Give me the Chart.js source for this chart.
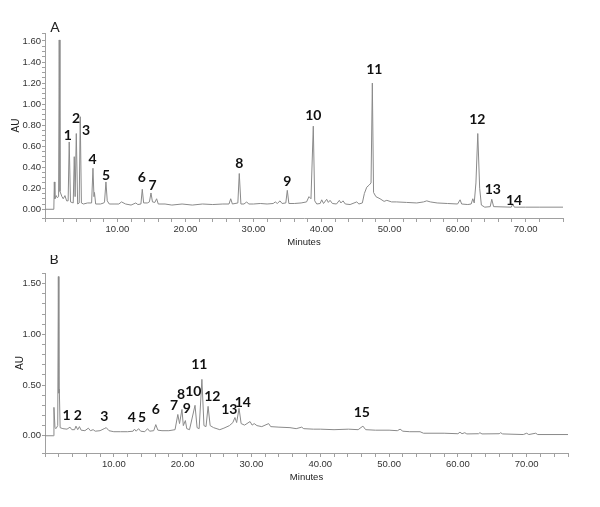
<!DOCTYPE html>
<html>
<head>
<meta charset="utf-8">
<script src="https://cdn.jsdelivr.net/npm/chart.js@4.4.1/dist/chart.umd.min.js"></script>
<style>
    html, body { margin: 0; padding: 0; background: #fff; }
    #wrap { position: relative; width: 600px; height: 507px; }
    .panel { position: absolute; left: 0; width: 600px; }
    #panelA { top: 0; height: 255px; }
    #panelB { top: 255px; height: 252px; }
</style>
</head>
<body>
<div id="wrap">
    <div class="panel" id="panelA"><canvas id="chartA" width="600" height="255"></canvas></div>
    <div class="panel" id="panelB"><canvas id="chartB" width="600" height="252"></canvas></div>
</div>
<script>
// ========================================
// DATA
// ========================================

// Panel A trace: [minutes, AU]
const traceA = [
    [-0.65,0.00],[0.65,0.00],[0.72,0.26],[0.80,0.10],[1.00,0.13],[1.15,0.11],[1.35,0.12],[1.44,1.61],[1.55,0.17],
    [1.84,0.12],[2.03,0.10],[2.28,0.13],[2.53,0.08],[2.75,0.08],[2.91,0.64],[3.10,0.07],[3.50,0.06],[3.65,0.50],
    [3.78,0.12],[3.95,0.72],[4.15,0.05],[4.38,0.06],[4.53,0.88],[4.70,0.06],[5.00,0.05],[5.60,0.06],[6.20,0.06],
    [6.40,0.39],[6.55,0.12],[6.62,0.16],[6.80,0.05],[7.50,0.05],[8.00,0.06],[8.10,0.07],[8.31,0.26],[8.50,0.08],
    [8.80,0.05],[9.50,0.05],[10.20,0.05],[10.60,0.07],[11.20,0.05],[12.00,0.04],[12.70,0.06],[13.00,0.045],
    [13.45,0.05],[13.65,0.19],[13.85,0.06],[14.40,0.06],[14.70,0.07],[14.93,0.155],[15.15,0.07],[15.50,0.065],
    [15.76,0.10],[16.00,0.05],[17.00,0.05],[18.00,0.04],[19.50,0.05],[21.00,0.04],[22.50,0.05],[24.00,0.045],
    [25.50,0.05],[26.40,0.05],[26.65,0.10],[26.90,0.05],[27.70,0.06],[27.91,0.34],[28.15,0.05],[28.60,0.05],
    [29.00,0.07],[29.30,0.05],[30.00,0.05],[31.00,0.055],[32.00,0.05],[32.90,0.055],[33.20,0.07],[33.50,0.055],
    [33.90,0.08],[34.20,0.055],[34.75,0.06],[34.97,0.18],[35.20,0.055],[36.00,0.055],[37.00,0.06],[37.80,0.07],
    [38.16,0.12],[38.45,0.10],[38.79,0.79],[39.00,0.08],[39.30,0.05],[39.80,0.055],[40.03,0.09],[40.30,0.055],
    [40.76,0.095],[41.00,0.065],[41.25,0.085],[41.60,0.055],[42.20,0.05],[42.62,0.085],[42.85,0.06],[43.16,0.08],
    [43.50,0.05],[44.20,0.045],[45.18,0.07],[45.50,0.05],[46.00,0.06],[46.30,0.15],[46.65,0.21],[47.00,0.23],
    [47.28,0.25],[47.47,1.20],[47.65,0.16],[48.00,0.12],[48.60,0.10],[49.20,0.075],[49.60,0.085],[50.30,0.07],
    [51.00,0.07],[52.50,0.065],[54.00,0.06],[55.00,0.07],[55.47,0.08],[56.00,0.07],[57.00,0.06],[58.50,0.055],
    [60.00,0.05],[60.37,0.09],[60.60,0.05],[61.50,0.045],[62.00,0.05],[62.24,0.10],[62.45,0.06],[62.70,0.25],
    [62.97,0.72],[63.25,0.20],[63.50,0.04],[64.00,0.02],[64.80,0.025],[65.03,0.095],[65.30,0.025],[67.90,0.02],
    [68.12,0.05],[68.35,0.02],[70.00,0.02],[72.00,0.02],[75.50,0.02]
];

// Panel B trace: [minutes, AU]
const traceB = [
    [0,0],[1.2,0],[1.3,0.28],[1.45,0.08],[1.6,0.07],[1.85,0.10],[1.94,1.57],[2.02,0.42],[2.08,0.46],[2.2,0.08],
    [2.6,0.07],[3.2,0.065],[3.63,0.085],[3.9,0.06],[4.3,0.06],[4.5,0.095],[4.75,0.06],[5.0,0.09],[5.25,0.055],
    [5.8,0.05],[6.3,0.075],[6.6,0.05],[7.0,0.06],[7.3,0.045],[8.0,0.05],[8.6,0.07],[8.9,0.08],[9.3,0.05],
    [10,0.04],[11,0.04],[12,0.04],[12.8,0.045],[13.0,0.065],[13.25,0.045],[13.6,0.07],[13.9,0.045],[14.5,0.04],
    [14.9,0.07],[15.2,0.045],[15.8,0.05],[16.1,0.11],[16.4,0.055],[17,0.05],[18,0.05],[18.9,0.06],[19.3,0.21],
    [19.55,0.12],[19.9,0.26],[20.1,0.10],[20.4,0.15],[20.6,0.07],[21.0,0.06],[21.8,0.30],[22.1,0.08],[22.4,0.07],
    [22.8,0.556],[23.1,0.10],[23.4,0.09],[23.7,0.29],[24.0,0.10],[24.5,0.08],[25.4,0.06],[26.0,0.075],[26.8,0.10],
    [27.3,0.13],[27.6,0.18],[27.85,0.13],[28.2,0.27],[28.5,0.12],[29.0,0.105],[29.8,0.14],[30.1,0.105],[30.4,0.12],
    [30.8,0.10],[31.5,0.09],[32.5,0.12],[32.8,0.09],[34.0,0.085],[35.6,0.08],[36.5,0.07],[37.3,0.085],[37.6,0.07],
    [39.0,0.065],[40.0,0.065],[42.0,0.06],[44.1,0.065],[45.5,0.06],[46.2,0.095],[46.6,0.06],[48.0,0.055],
    [50.0,0.055],[51.2,0.05],[51.6,0.065],[52.0,0.045],[53.0,0.04],[54.5,0.04],[55.0,0.025],[58.0,0.025],
    [60.0,0.02],[60.3,0.035],[60.6,0.02],[61.0,0.03],[61.3,0.018],[63.0,0.02],[63.2,0.03],[63.5,0.018],
    [66.0,0.02],[66.2,0.03],[66.5,0.018],[69.5,0.012],[70.0,0.025],[70.3,0.012],[71.3,0.025],[71.6,0.012],[76.0,0.012]
];

// Peak numbers and where each number sits (minutes, AU)
const peakNumsA   = ['1','2','3','4','5','6','7','8','9','10','11','12','13','14'];
const peakTimesA  = [2.72, 3.90, 5.37, 6.35, 8.31, 13.6, 15.18, 27.91, 34.97, 38.79, 47.76, 62.9, 65.18, 68.3];
const peakLevelsA = [0.705, 0.867, 0.752, 0.476, 0.324, 0.305, 0.229, 0.435, 0.26, 0.889, 1.333, 0.857, 0.188, 0.086];

const peakNumsB   = ['1','2','3','4','5','6','7','8','9','10','11','12','13','14','15'];
const peakTimesB  = [3.15, 4.75, 8.62, 12.6, 14.1, 16.09, 18.75, 19.77, 20.6, 21.56, 22.43, 24.32, 26.79, 28.74, 46.03];
const peakLevelsB = [0.203, 0.203, 0.187, 0.184, 0.184, 0.26, 0.30, 0.41, 0.27, 0.433, 0.707, 0.39, 0.26, 0.329, 0.226];

// Tick labels
const xTickLabelsA = [0, 10, 20, 30, 40, 50, 60, 70];
const xTickLabelsB = [10, 20, 30, 40, 50, 60, 70];
const yTickLabelsA = [0, 0.2, 0.4, 0.6, 0.8, 1.0, 1.2, 1.4, 1.6];
const yTickLabelsB = [0, 0.5, 1.0, 1.5];

// ========================================
// PLUGIN - peak numbers + panel letter
// ========================================
const peakNumbers = {
    id: 'peakNumbers',
    afterDatasetsDraw(chart, args, opts) {
        const { ctx, scales: { x, y } } = chart;
        ctx.save();
        ctx.fillStyle = '#111';
        ctx.font = 'bold 14px Lato, sans-serif';
        ctx.textAlign = 'center';
        ctx.textBaseline = 'middle';
        opts.nums.forEach((n, i) => {
            ctx.fillText(n, x.getPixelForValue(opts.times[i]), y.getPixelForValue(opts.levels[i]));
        });
        // letra do painel
        ctx.font = '14px Lato, sans-serif';
        ctx.fillStyle = '#222';
        ctx.textBaseline = 'alphabetic';
        ctx.fillText(opts.letter, opts.letterX, opts.letterY);
        ctx.restore();
    }
};

function hasLabel(list, v) {
    return list.some(l => Math.abs(l - v) < 1e-6);
}

// ========================================
// CHART BUILDER
// ========================================
function buildChromatogram(canvasId, trace, peaks, axis) {
    const tickFont = { family: "'Liberation Sans', Arial, sans-serif", size: 9.5 };
    const gray = '#a0a0a0';

    return new Chart(document.getElementById(canvasId), {
        type: 'line',
        data: {
            datasets: [{
                data: trace.map(p => ({ x: p[0], y: p[1] })),
                borderColor: '#8a8a8a',
                borderWidth: 1,
                pointRadius: 0,
                tension: 0,
                fill: false
            }]
        },
        options: {
            responsive: false,
            animation: false,
            events: [],
            layout: { padding: { top: axis.padTop, right: axis.padRight, bottom: axis.padBottom, left: 0 } },
            plugins: {
                legend: { display: false },
                tooltip: { enabled: false },
                peakNumbers: peaks
            },
            scales: {
                x: {
                    type: 'linear',
                    min: axis.xMin,
                    max: axis.xMax,
                    afterFit: s => { s.height = 37; },
                    grid: { drawOnChartArea: false, drawTicks: true, tickLength: 4, color: gray },
                    border: { display: true, color: gray, width: 1 },
                    ticks: {
                        stepSize: 2,
                        autoSkip: false,
                        maxRotation: 0,
                        padding: 2,
                        color: '#333',
                        font: tickFont,
                        callback: v => hasLabel(axis.xLabels, v) ? v.toFixed(2) : ''
                    },
                    title: { display: true, text: 'Minutes', color: '#222', font: tickFont, padding: { top: 0, bottom: 7 } }
                },
                y: {
                    min: axis.yMin,
                    max: axis.yMax,
                    afterFit: s => { s.width = 45; },
                    grid: { drawOnChartArea: false, drawTicks: true, tickLength: 3, color: gray },
                    border: { display: true, color: gray, width: 1 },
                    ticks: {
                        stepSize: axis.yStep,
                        autoSkip: false,
                        padding: 1,
                        color: '#333',
                        font: tickFont,
                        callback: v => hasLabel(axis.yLabels, v) ? v.toFixed(2) : ''
                    },
                    title: { display: true, text: 'AU', color: '#222', font: { family: tickFont.family, size: 10 }, padding: { top: axis.auPad, bottom: 0 } }
                }
            }
        },
        plugins: [peakNumbers]
    });
}

// 1. Painel A
buildChromatogram('chartA', traceA,
    { nums: peakNumsA, times: peakTimesA, levels: peakLevelsA, letter: 'A', letterX: 55, letterY: 32 },
    { xMin: -0.65, xMax: 75.5, yMin: -0.083, yMax: 1.676, yStep: 0.05,
      xLabels: xTickLabelsA, yLabels: yTickLabelsA,
      padTop: 33, padRight: 37, padBottom: 0, auPad: 10 });

// 2. Painel B
buildChromatogram('chartB', traceB,
    { nums: peakNumsB, times: peakTimesB, levels: peakLevelsB, letter: 'B', letterX: 54, letterY: 9 },
    { xMin: 0, xMax: 76, yMin: -0.17, yMax: 1.605, yStep: 0.1,
      xLabels: xTickLabelsB, yLabels: yTickLabelsB,
      padTop: 18, padRight: 32, padBottom: 17, auPad: 14 });
</script>
</body>
</html>
